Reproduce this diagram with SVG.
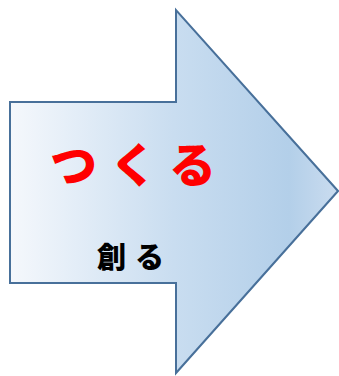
<svg xmlns="http://www.w3.org/2000/svg" width="339" height="376" viewBox="0 0 339 376">
<defs>
<linearGradient id="g" x1="10" y1="0" x2="338" y2="0" gradientUnits="userSpaceOnUse">
<stop offset="0" stop-color="#f5f8fc"/>
<stop offset="0.5" stop-color="#c9ddf0"/>
<stop offset="0.85" stop-color="#b3cfe9"/>
<stop offset="1" stop-color="#cadcef"/>
</linearGradient>
<style>
.t{font-family:"Noto Sans CJK JP","Noto Sans CJK SC",sans-serif;font-weight:900;}
</style>
</defs>
<g id="arrow">
<path d="M10,102 L176,102 L176,10 L338,191 L176,373 L176,283 L10,283 Z" fill="url(#g)" stroke="#48709a" stroke-width="2" stroke-linejoin="miter"/>
</g>
<g id="label-main">
<text class="t" x="50" y="182" font-size="47" fill="#ff0000" letter-spacing="13">つくる</text>
</g>
<g id="label-sub">
<text class="t" x="97" y="268" font-size="29" fill="#000000" letter-spacing="9">創る</text>
</g>
</svg>
